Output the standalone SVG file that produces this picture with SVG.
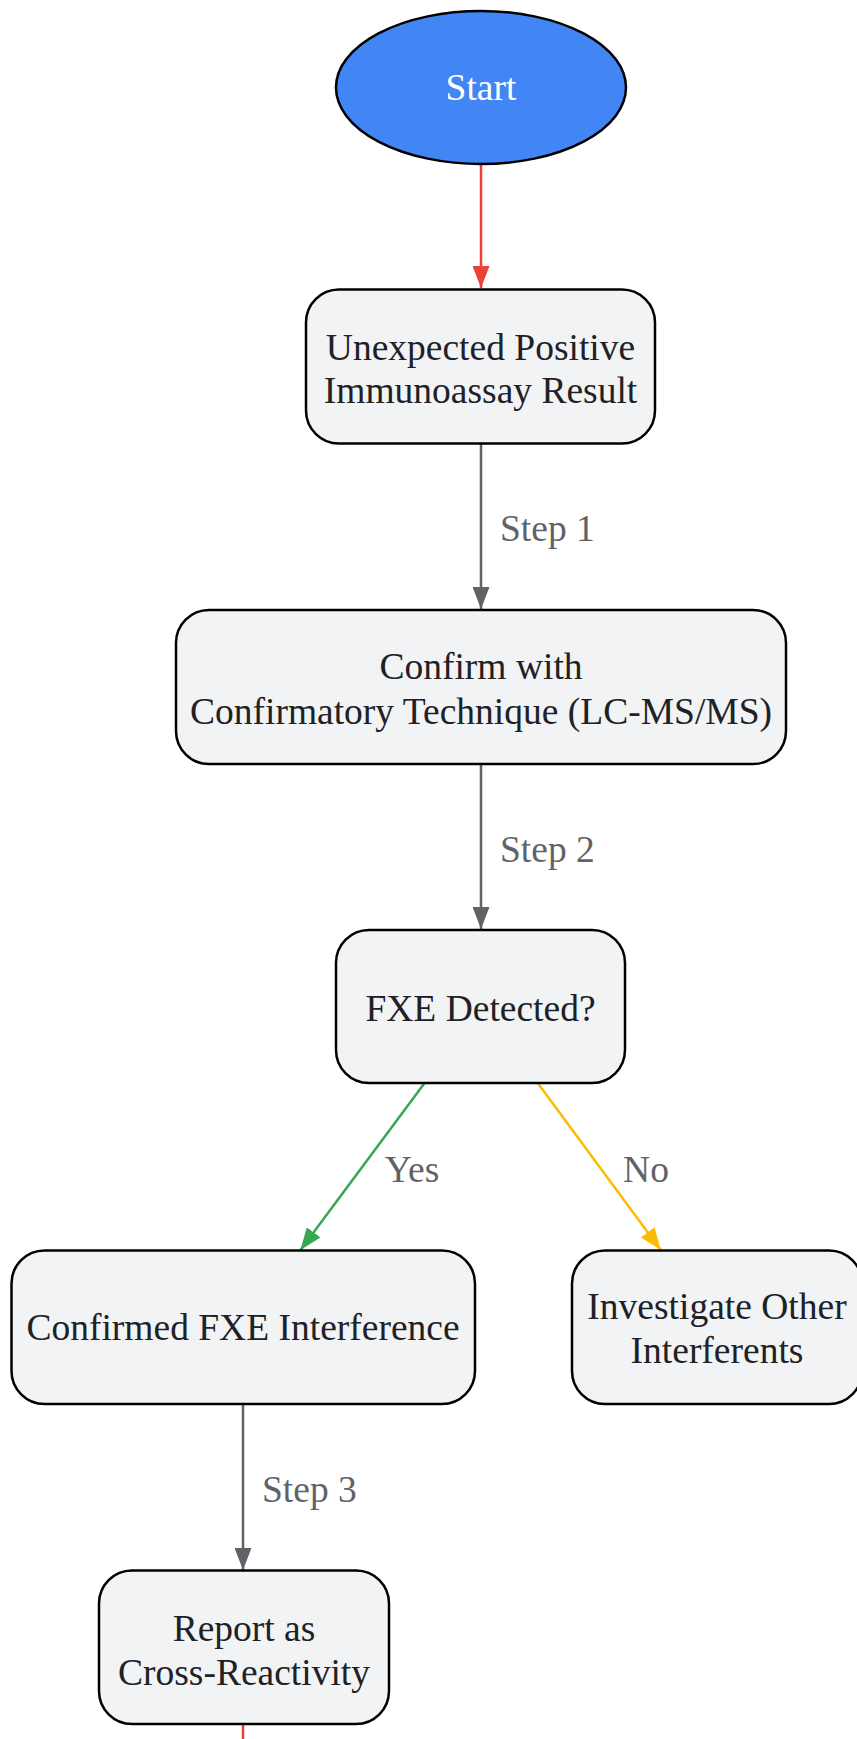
<svg xmlns="http://www.w3.org/2000/svg" width="857" height="1739" viewBox="0 0 857 1739">
<style>
.node{fill:#F1F3F4;stroke:#000;stroke-width:2.5}
.nt{font-family:"Liberation Serif","Times New Roman",serif;font-size:37.5px;fill:#202124;text-anchor:middle;dominant-baseline:central}
.lt{font-family:"Liberation Serif","Times New Roman",serif;font-size:37.5px;fill:#5F6368;dominant-baseline:central}
.c{fill:none;stroke-width:2.5}
</style>
<defs>
<marker id="ag" markerUnits="userSpaceOnUse" markerWidth="22" markerHeight="17" refX="22" refY="8.5" orient="auto"><path d="M0,0 L22,8.5 L0,17 z" fill="#5F6368"/></marker>
<marker id="ar" markerUnits="userSpaceOnUse" markerWidth="22" markerHeight="17" refX="22" refY="8.5" orient="auto"><path d="M0,0 L22,8.5 L0,17 z" fill="#EA4335"/></marker>
<marker id="agr" markerUnits="userSpaceOnUse" markerWidth="22" markerHeight="17" refX="22" refY="8.5" orient="auto"><path d="M0,0 L22,8.5 L0,17 z" fill="#34A853"/></marker>
<marker id="ay" markerUnits="userSpaceOnUse" markerWidth="22" markerHeight="17" refX="22" refY="8.5" orient="auto"><path d="M0,0 L22,8.5 L0,17 z" fill="#FBBC04"/></marker>
</defs>
<rect width="857" height="1739" fill="#FFFFFF"/>
<g id="connectors">
<line class="c" x1="481" y1="164" x2="481" y2="288" stroke="#EA4335" marker-end="url(#ar)"/>
<line class="c" x1="481" y1="444" x2="481" y2="609" stroke="#5F6368" marker-end="url(#ag)"/>
<text class="lt" x="500" y="528">Step 1</text>
<line class="c" x1="481" y1="764" x2="481" y2="929" stroke="#5F6368" marker-end="url(#ag)"/>
<text class="lt" x="500" y="849">Step 2</text>
<line class="c" x1="424.6" y1="1083" x2="300.5" y2="1250" stroke="#34A853" marker-end="url(#agr)"/>
<text class="lt" x="412" y="1169" text-anchor="middle">Yes</text>
<line class="c" x1="537.7" y1="1083" x2="660.8" y2="1250" stroke="#FBBC04" marker-end="url(#ay)"/>
<text class="lt" x="646" y="1169" text-anchor="middle">No</text>
<line class="c" x1="243" y1="1404" x2="243" y2="1570" stroke="#5F6368" marker-end="url(#ag)"/>
<text class="lt" x="262" y="1489">Step 3</text>
<line class="c" x1="243" y1="1724" x2="243" y2="1745" stroke="#EA4335"/>
</g>
<g id="start">
<ellipse cx="481" cy="87.5" rx="145" ry="76.5" fill="#4285F4" stroke="#000" stroke-width="2.5"/>
<text class="nt" x="481" y="87.5" style="fill:#FFFFFF">Start</text>
</g>
<g id="unexpected">
<rect class="node" x="306" y="289.5" width="349" height="154" rx="33"/>
<text class="nt" x="480.5" y="347">Unexpected Positive</text>
<text class="nt" x="480.5" y="390">Immunoassay Result</text>
</g>
<g id="confirm">
<rect class="node" x="176" y="610" width="610" height="154" rx="33"/>
<text class="nt" x="481" y="666">Confirm with</text>
<text class="nt" x="481" y="711">Confirmatory Technique (LC-MS/MS)</text>
</g>
<g id="detected">
<rect class="node" x="336" y="930" width="289" height="153" rx="33"/>
<text class="nt" x="480.5" y="1008">FXE Detected?</text>
</g>
<g id="confirmed">
<rect class="node" x="11.5" y="1250.5" width="463.5" height="153.5" rx="33"/>
<text class="nt" x="243" y="1327">Confirmed FXE Interference</text>
</g>
<g id="investigate">
<rect class="node" x="572" y="1250.5" width="290" height="153.5" rx="33"/>
<text class="nt" x="717" y="1306">Investigate Other</text>
<text class="nt" x="717" y="1350">Interferents</text>
</g>
<g id="report">
<rect class="node" x="99" y="1570.5" width="290" height="153.5" rx="33"/>
<text class="nt" x="244" y="1628">Report as</text>
<text class="nt" x="244" y="1672">Cross-Reactivity</text>
</g>
</svg>
